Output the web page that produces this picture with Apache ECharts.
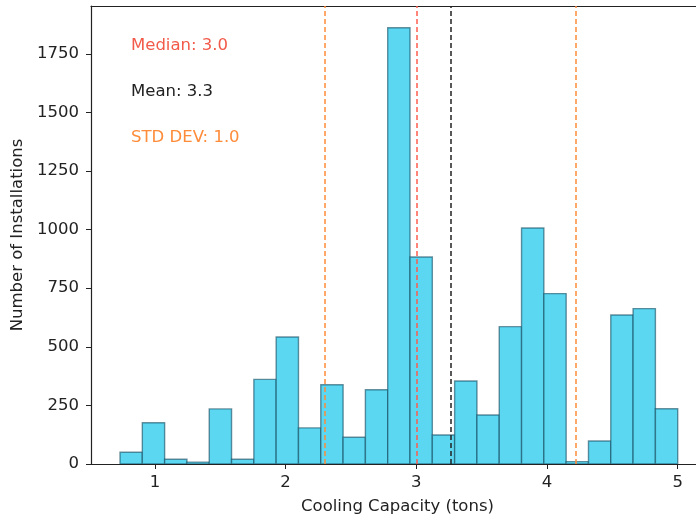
<!DOCTYPE html>
<html>
<head>
<meta charset="utf-8">
<script src="https://cdn.jsdelivr.net/npm/echarts@6/dist/echarts.min.js"></script>
<style>
  html, body { margin: 0; padding: 0; background: #fff; }
  #main { width: 696px; height: 520px; }
</style>
</head>
<body>
<div id="main"></div>
<script>
// histogram bins (tons) and counts
const binStart = 0.733;
const binWidth = 0.17068;
const counts = [50, 176, 20, 8, 235, 20, 361, 542, 154, 338, 114, 317, 1861, 883,
  124, 354, 209, 586, 1007, 727, 10, 98, 636, 663, 236];

const median = 3.0;
const mean = 3.259;
const stdDev = 0.959;

const xTicks = [1, 2, 3, 4, 5];
const notes = ["Median: 3.0", "Mean: 3.3", "STD DEV: 1.0"];

const bins = counts.map((c, i) => [binStart + i * binWidth, binStart + (i + 1) * binWidth, c]);

const font = "DejaVu Sans";
const fs = 16.5;

const option = {
  animation: false,
  backgroundColor: "#fff",
  textStyle: { fontFamily: font },
  grid: { left: 91, top: 6, right: 0, bottom: 56, outerBoundsMode: "none", containLabel: false },
  xAxis: [
    {
      type: "value",
      min: 0.511,
      max: 5.14,
      name: "Cooling Capacity (tons)",
      nameLocation: "middle",
      nameGap: 34,
      nameTextStyle: { fontSize: fs, color: "#222", fontFamily: font, padding: [0, 0, 0, 8] },
      splitLine: { show: false },
      axisLine: { show: true, onZero: false, lineStyle: { color: "#222", width: 1.2 } },
      axisTick: { show: true, length: 5, customValues: xTicks, lineStyle: { color: "#222" } },
      axisLabel: { customValues: xTicks, fontSize: fs, color: "#222", margin: 10, fontFamily: font }
    },
    {
      type: "value",
      position: "top",
      min: 0.511,
      max: 5.14,
      splitLine: { show: false },
      axisLine: { show: true, onZero: false, lineStyle: { color: "#222", width: 1.2 } },
      axisTick: { show: false },
      axisLabel: { show: false }
    }
  ],
  yAxis: {
    type: "value",
    min: 0,
    max: 1954,
    interval: 250,
    name: "Number of Installations",
    nameLocation: "middle",
    nameGap: 64,
    nameTextStyle: { fontSize: fs, color: "#222", fontFamily: font },
    splitLine: { show: false },
    axisLine: { show: true, lineStyle: { color: "#222", width: 1.2 } },
    axisTick: { show: true, length: 5, lineStyle: { color: "#222" } },
    axisLabel: { fontSize: fs, color: "#222", margin: 12, fontFamily: font,
      showMaxLabel: false, formatter: (v) => String(v) }
  },
  series: [
    {
      type: "custom",
      data: bins,
      clip: true,
      encode: { x: [0, 1], y: 2 },
      renderItem: function (params, api) {
        const p0 = api.coord([api.value(0), api.value(2)]);
        const p1 = api.coord([api.value(1), 0]);
        return {
          type: "rect",
          shape: { x: p0[0], y: p0[1], width: p1[0] - p0[0], height: p1[1] - p0[1] },
          style: { fill: "#5bd7f2", stroke: "rgba(20,75,95,0.6)", lineWidth: 1.4 }
        };
      },
      markLine: {
        symbol: "none",
        silent: true,
        label: { show: false },
        data: [
          { xAxis: median, lineStyle: { color: "#ff5c4d", type: [5, 3], width: 1.5 } },
          { xAxis: mean, lineStyle: { color: "#222", type: [5, 3], width: 1.5 } },
          { xAxis: mean - stdDev, lineStyle: { color: "#ff8c3a", type: [5, 3], width: 1.5 } },
          { xAxis: mean + stdDev, lineStyle: { color: "#ff8c3a", type: [5, 3], width: 1.5 } }
        ]
      }
    }
  ],
  graphic: [
    { type: "text", left: 131, top: 37, style: { text: notes[0], fill: "#f25a4a", fontSize: fs, fontFamily: font } },
    { type: "text", left: 131, top: 83, style: { text: notes[1], fill: "#222", fontSize: fs, fontFamily: font } },
    { type: "text", left: 131, top: 129, style: { text: notes[2], fill: "#ff8c3a", fontSize: fs, fontFamily: font } }
  ]
};

const chart = echarts.init(document.getElementById("main"));
chart.setOption(option);
</script>
</body>
</html>
